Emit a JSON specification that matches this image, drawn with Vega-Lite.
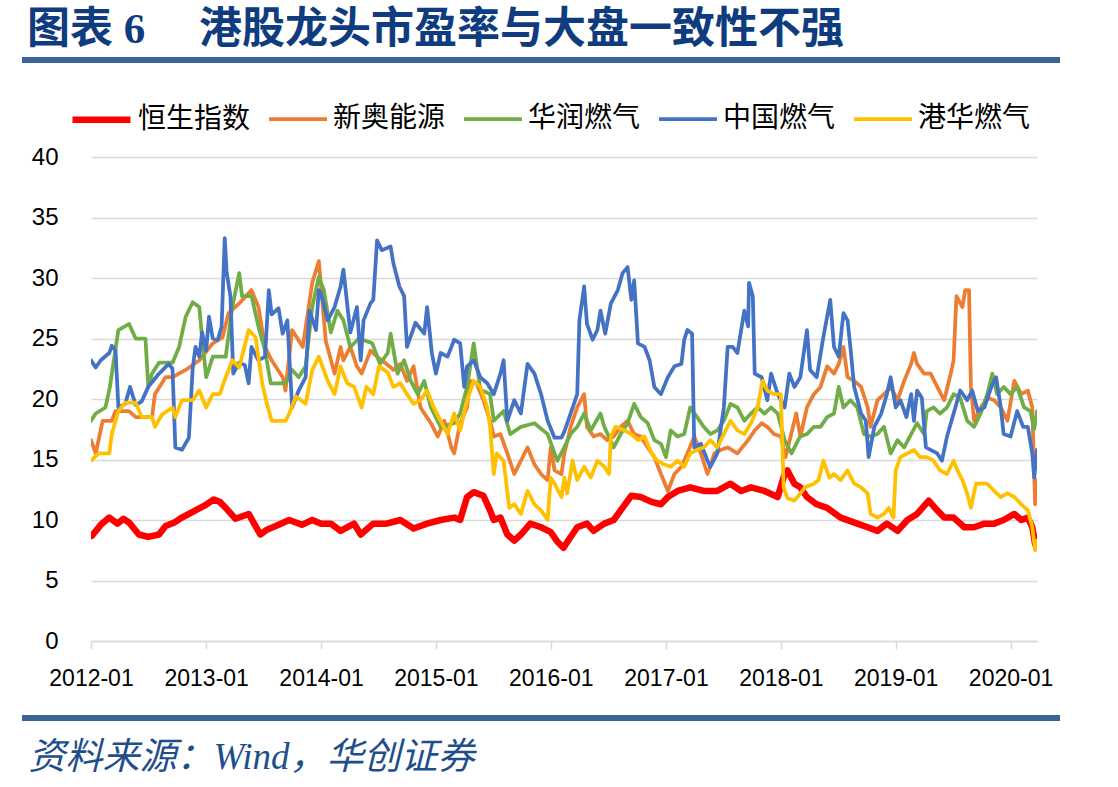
{
  "$schema": "https://vega.github.io/schema/vega-lite/v6.json",
  "autosize": "none",
  "width": 946,
  "height": 484,
  "padding": {"left": 91, "top": 157, "right": 81, "bottom": 146},
  "background": "white",
  "title": {
    "text": "图表 6 　港股龙头市盈率与大盘一致性不强",
    "anchor": "start",
    "frame": "group",
    "dx": -64,
    "offset": 5,
    "font": "Liberation Serif, Noto Sans CJK SC",
    "fontSize": 43,
    "fontWeight": "bold",
    "color": "#0F3C7E"
  },
  "config": {
    "view": {"stroke": null},
    "font": "Liberation Sans"
  },
  "layer": [
    {
      "data": {"values": [{}]},
      "mark": {"type": "rule", "color": "#3A6496", "strokeWidth": 6, "clip": false},
      "encoding": {"x": {"value": -69}, "x2": {"value": 969}, "y": {"value": -97}}
    },
    {
      "data": {"values": [{}]},
      "mark": {"type": "rule", "color": "#3A6496", "strokeWidth": 6, "clip": false},
      "encoding": {"x": {"value": -69}, "x2": {"value": 969}, "y": {"value": 561}}
    },
    {
      "data": {"values": [
        {"series":"恒生指数","date":"2012-01-04","value":8.7},
        {"series":"恒生指数","date":"2012-02-01","value":9.6},
        {"series":"恒生指数","date":"2012-02-28","value":10.2},
        {"series":"恒生指数","date":"2012-03-25","value":9.7},
        {"series":"恒生指数","date":"2012-04-13","value":10.1},
        {"series":"恒生指数","date":"2012-05-01","value":9.8},
        {"series":"恒生指数","date":"2012-06-01","value":8.8},
        {"series":"恒生指数","date":"2012-07-01","value":8.6},
        {"series":"恒生指数","date":"2012-08-04","value":8.8},
        {"series":"恒生指数","date":"2012-08-25","value":9.5},
        {"series":"恒生指数","date":"2012-09-22","value":9.8},
        {"series":"恒生指数","date":"2012-10-16","value":10.2},
        {"series":"恒生指数","date":"2012-11-28","value":10.8},
        {"series":"恒生指数","date":"2012-12-28","value":11.2},
        {"series":"恒生指数","date":"2013-01-25","value":11.7},
        {"series":"恒生指数","date":"2013-02-13","value":11.5},
        {"series":"恒生指数","date":"2013-03-04","value":11.0},
        {"series":"恒生指数","date":"2013-04-04","value":10.1},
        {"series":"恒生指数","date":"2013-05-16","value":10.5},
        {"series":"恒生指数","date":"2013-06-22","value":8.8},
        {"series":"恒生指数","date":"2013-07-13","value":9.2},
        {"series":"恒生指数","date":"2013-08-10","value":9.5},
        {"series":"恒生指数","date":"2013-09-22","value":10.0},
        {"series":"恒生指数","date":"2013-11-01","value":9.6},
        {"series":"恒生指数","date":"2013-12-04","value":10.0},
        {"series":"恒生指数","date":"2014-01-01","value":9.7},
        {"series":"恒生指数","date":"2014-02-01","value":9.7},
        {"series":"恒生指数","date":"2014-03-04","value":9.1},
        {"series":"恒生指数","date":"2014-04-16","value":9.7},
        {"series":"恒生指数","date":"2014-05-07","value":8.8},
        {"series":"恒生指数","date":"2014-06-16","value":9.7},
        {"series":"恒生指数","date":"2014-07-28","value":9.7},
        {"series":"恒生指数","date":"2014-09-10","value":10.0},
        {"series":"恒生指数","date":"2014-10-22","value":9.3},
        {"series":"恒生指数","date":"2014-12-04","value":9.7},
        {"series":"恒生指数","date":"2015-01-16","value":10.0},
        {"series":"恒生指数","date":"2015-02-28","value":10.2},
        {"series":"恒生指数","date":"2015-03-19","value":10.0},
        {"series":"恒生指数","date":"2015-04-10","value":11.9},
        {"series":"恒生指数","date":"2015-05-01","value":12.3},
        {"series":"恒生指数","date":"2015-06-01","value":12.0},
        {"series":"恒生指数","date":"2015-06-22","value":10.8},
        {"series":"恒生指数","date":"2015-07-04","value":10.0},
        {"series":"恒生指数","date":"2015-07-25","value":10.2},
        {"series":"恒生指数","date":"2015-08-16","value":8.8},
        {"series":"恒生指数","date":"2015-09-07","value":8.3},
        {"series":"恒生指数","date":"2015-09-28","value":8.8},
        {"series":"恒生指数","date":"2015-10-28","value":9.7},
        {"series":"恒生指数","date":"2015-12-01","value":9.4},
        {"series":"恒生指数","date":"2016-01-01","value":9.0},
        {"series":"恒生指数","date":"2016-01-22","value":8.2},
        {"series":"恒生指数","date":"2016-02-10","value":7.7},
        {"series":"恒生指数","date":"2016-03-04","value":8.6},
        {"series":"恒生指数","date":"2016-03-25","value":9.4},
        {"series":"恒生指数","date":"2016-04-25","value":9.7},
        {"series":"恒生指数","date":"2016-05-16","value":9.1},
        {"series":"恒生指数","date":"2016-06-19","value":9.7},
        {"series":"恒生指数","date":"2016-07-19","value":10.0},
        {"series":"恒生指数","date":"2016-08-10","value":10.8},
        {"series":"恒生指数","date":"2016-09-13","value":12.0},
        {"series":"恒生指数","date":"2016-10-13","value":11.9},
        {"series":"恒生指数","date":"2016-11-16","value":11.5},
        {"series":"恒生指数","date":"2016-12-16","value":11.3},
        {"series":"恒生指数","date":"2017-01-07","value":11.9},
        {"series":"恒生指数","date":"2017-02-07","value":12.4},
        {"series":"恒生指数","date":"2017-03-19","value":12.7},
        {"series":"恒生指数","date":"2017-05-01","value":12.4},
        {"series":"恒生指数","date":"2017-06-13","value":12.4},
        {"series":"恒生指数","date":"2017-07-25","value":13.0},
        {"series":"恒生指数","date":"2017-08-28","value":12.4},
        {"series":"恒生指数","date":"2017-09-28","value":12.7},
        {"series":"恒生指数","date":"2017-11-10","value":12.4},
        {"series":"恒生指数","date":"2017-12-22","value":11.9},
        {"series":"恒生指数","date":"2018-01-13","value":13.8},
        {"series":"恒生指数","date":"2018-01-22","value":14.1},
        {"series":"恒生指数","date":"2018-02-13","value":13.0},
        {"series":"恒生指数","date":"2018-03-04","value":12.7},
        {"series":"恒生指数","date":"2018-03-25","value":11.9},
        {"series":"恒生指数","date":"2018-04-25","value":11.3},
        {"series":"恒生指数","date":"2018-05-28","value":11.0},
        {"series":"恒生指数","date":"2018-07-10","value":10.2},
        {"series":"恒生指数","date":"2018-09-01","value":9.7},
        {"series":"恒生指数","date":"2018-10-04","value":9.4},
        {"series":"恒生指数","date":"2018-11-04","value":9.1},
        {"series":"恒生指数","date":"2018-12-04","value":9.7},
        {"series":"恒生指数","date":"2019-01-07","value":9.1},
        {"series":"恒生指数","date":"2019-02-07","value":10.0},
        {"series":"恒生指数","date":"2019-03-10","value":10.5},
        {"series":"恒生指数","date":"2019-04-16","value":11.6},
        {"series":"恒生指数","date":"2019-05-13","value":10.8},
        {"series":"恒生指数","date":"2019-06-04","value":10.2},
        {"series":"恒生指数","date":"2019-07-04","value":10.2},
        {"series":"恒生指数","date":"2019-08-07","value":9.4},
        {"series":"恒生指数","date":"2019-09-07","value":9.4},
        {"series":"恒生指数","date":"2019-10-10","value":9.7},
        {"series":"恒生指数","date":"2019-11-10","value":9.7},
        {"series":"恒生指数","date":"2019-12-10","value":10.0},
        {"series":"恒生指数","date":"2020-01-13","value":10.5},
        {"series":"恒生指数","date":"2020-02-04","value":10.0},
        {"series":"恒生指数","date":"2020-02-25","value":10.2},
        {"series":"恒生指数","date":"2020-03-10","value":9.4},
        {"series":"恒生指数","date":"2020-03-19","value":8.0},
        {"series":"恒生指数","date":"2020-03-25","value":8.6},

        {"series":"新奥能源","date":"2012-01-01","value":16.6},
        {"series":"新奥能源","date":"2012-01-16","value":15.5},
        {"series":"新奥能源","date":"2012-02-07","value":18.2},
        {"series":"新奥能源","date":"2012-03-07","value":18.2},
        {"series":"新奥能源","date":"2012-03-19","value":19.0},
        {"series":"新奥能源","date":"2012-05-01","value":19.0},
        {"series":"新奥能源","date":"2012-05-22","value":18.5},
        {"series":"新奥能源","date":"2012-07-13","value":18.5},
        {"series":"新奥能源","date":"2012-07-22","value":20.4},
        {"series":"新奥能源","date":"2012-08-25","value":21.8},
        {"series":"新奥能源","date":"2012-09-16","value":21.8},
        {"series":"新奥能源","date":"2012-10-28","value":22.4},
        {"series":"新奥能源","date":"2012-12-10","value":23.2},
        {"series":"新奥能源","date":"2013-01-22","value":24.6},
        {"series":"新奥能源","date":"2013-02-22","value":25.1},
        {"series":"新奥能源","date":"2013-03-13","value":27.1},
        {"series":"新奥能源","date":"2013-04-16","value":27.9},
        {"series":"新奥能源","date":"2013-05-25","value":29.0},
        {"series":"新奥能源","date":"2013-06-16","value":27.6},
        {"series":"新奥能源","date":"2013-07-07","value":24.3},
        {"series":"新奥能源","date":"2013-07-28","value":23.2},
        {"series":"新奥能源","date":"2013-09-01","value":21.8},
        {"series":"新奥能源","date":"2013-09-10","value":20.7},
        {"series":"新奥能源","date":"2013-10-01","value":25.7},
        {"series":"新奥能源","date":"2013-11-04","value":24.3},
        {"series":"新奥能源","date":"2013-12-04","value":29.6},
        {"series":"新奥能源","date":"2013-12-25","value":31.4},
        {"series":"新奥能源","date":"2014-01-16","value":24.8},
        {"series":"新奥能源","date":"2014-02-13","value":22.1},
        {"series":"新奥能源","date":"2014-03-04","value":24.3},
        {"series":"新奥能源","date":"2014-03-13","value":23.2},
        {"series":"新奥能源","date":"2014-04-04","value":24.3},
        {"series":"新奥能源","date":"2014-04-25","value":22.7},
        {"series":"新奥能源","date":"2014-05-10","value":22.1},
        {"series":"新奥能源","date":"2014-06-07","value":24.0},
        {"series":"新奥能源","date":"2014-06-28","value":23.5},
        {"series":"新奥能源","date":"2014-07-28","value":22.9},
        {"series":"新奥能源","date":"2014-08-19","value":22.4},
        {"series":"新奥能源","date":"2014-09-10","value":22.9},
        {"series":"新奥能源","date":"2014-10-01","value":21.5},
        {"series":"新奥能源","date":"2014-10-22","value":22.7},
        {"series":"新奥能源","date":"2014-11-13","value":19.3},
        {"series":"新奥能源","date":"2014-12-16","value":18.0},
        {"series":"新奥能源","date":"2015-01-07","value":16.9},
        {"series":"新奥能源","date":"2015-01-28","value":18.2},
        {"series":"新奥能源","date":"2015-02-19","value":16.0},
        {"series":"新奥能源","date":"2015-02-28","value":15.5},
        {"series":"新奥能源","date":"2015-03-19","value":18.0},
        {"series":"新奥能源","date":"2015-04-10","value":19.3},
        {"series":"新奥能源","date":"2015-04-19","value":21.5},
        {"series":"新奥能源","date":"2015-05-10","value":21.3},
        {"series":"新奥能源","date":"2015-06-01","value":19.9},
        {"series":"新奥能源","date":"2015-06-22","value":18.2},
        {"series":"新奥能源","date":"2015-07-04","value":16.9},
        {"series":"新奥能源","date":"2015-07-25","value":17.1},
        {"series":"新奥能源","date":"2015-08-16","value":15.5},
        {"series":"新奥能源","date":"2015-09-07","value":13.8},
        {"series":"新奥能源","date":"2015-09-28","value":14.9},
        {"series":"新奥能源","date":"2015-10-19","value":16.0},
        {"series":"新奥能源","date":"2015-11-10","value":14.6},
        {"series":"新奥能源","date":"2015-12-01","value":13.8},
        {"series":"新奥能源","date":"2015-12-22","value":13.3},
        {"series":"新奥能源","date":"2016-01-01","value":16.0},
        {"series":"新奥能源","date":"2016-01-13","value":14.1},
        {"series":"新奥能源","date":"2016-02-04","value":13.8},
        {"series":"新奥能源","date":"2016-02-13","value":15.5},
        {"series":"新奥能源","date":"2016-03-04","value":17.7},
        {"series":"新奥能源","date":"2016-03-25","value":19.3},
        {"series":"新奥能源","date":"2016-04-16","value":20.4},
        {"series":"新奥能源","date":"2016-04-25","value":17.7},
        {"series":"新奥能源","date":"2016-05-16","value":16.9},
        {"series":"新奥能源","date":"2016-06-07","value":17.1},
        {"series":"新奥能源","date":"2016-06-28","value":16.6},
        {"series":"新奥能源","date":"2016-07-19","value":16.9},
        {"series":"新奥能源","date":"2016-08-10","value":17.7},
        {"series":"新奥能源","date":"2016-09-01","value":18.2},
        {"series":"新奥能源","date":"2016-09-22","value":17.1},
        {"series":"新奥能源","date":"2016-10-13","value":16.9},
        {"series":"新奥能源","date":"2016-11-04","value":16.0},
        {"series":"新奥能源","date":"2016-11-25","value":15.2},
        {"series":"新奥能源","date":"2016-12-16","value":13.8},
        {"series":"新奥能源","date":"2017-01-07","value":12.4},
        {"series":"新奥能源","date":"2017-01-28","value":13.8},
        {"series":"新奥能源","date":"2017-02-19","value":14.4},
        {"series":"新奥能源","date":"2017-03-10","value":15.5},
        {"series":"新奥能源","date":"2017-04-01","value":16.9},
        {"series":"新奥能源","date":"2017-04-22","value":15.5},
        {"series":"新奥能源","date":"2017-05-13","value":13.8},
        {"series":"新奥能源","date":"2017-06-04","value":15.5},
        {"series":"新奥能源","date":"2017-06-25","value":15.8},
        {"series":"新奥能源","date":"2017-07-16","value":16.0},
        {"series":"新奥能源","date":"2017-08-16","value":15.5},
        {"series":"新奥能源","date":"2017-09-19","value":16.6},
        {"series":"新奥能源","date":"2017-10-10","value":17.4},
        {"series":"新奥能源","date":"2017-11-01","value":18.0},
        {"series":"新奥能源","date":"2017-11-19","value":17.7},
        {"series":"新奥能源","date":"2017-12-10","value":17.1},
        {"series":"新奥能源","date":"2018-01-01","value":16.9},
        {"series":"新奥能源","date":"2018-01-16","value":15.2},
        {"series":"新奥能源","date":"2018-02-01","value":16.9},
        {"series":"新奥能源","date":"2018-02-19","value":18.8},
        {"series":"新奥能源","date":"2018-03-04","value":16.9},
        {"series":"新奥能源","date":"2018-03-25","value":19.3},
        {"series":"新奥能源","date":"2018-04-16","value":20.4},
        {"series":"新奥能源","date":"2018-05-07","value":21.0},
        {"series":"新奥能源","date":"2018-05-28","value":22.7},
        {"series":"新奥能源","date":"2018-06-19","value":22.1},
        {"series":"新奥能源","date":"2018-07-04","value":22.9},
        {"series":"新奥能源","date":"2018-07-19","value":24.3},
        {"series":"新奥能源","date":"2018-08-01","value":21.8},
        {"series":"新奥能源","date":"2018-08-22","value":21.5},
        {"series":"新奥能源","date":"2018-09-13","value":21.0},
        {"series":"新奥能源","date":"2018-10-04","value":19.3},
        {"series":"新奥能源","date":"2018-10-13","value":17.7},
        {"series":"新奥能源","date":"2018-11-04","value":19.9},
        {"series":"新奥能源","date":"2018-11-25","value":20.4},
        {"series":"新奥能源","date":"2018-12-16","value":21.0},
        {"series":"新奥能源","date":"2019-01-07","value":19.9},
        {"series":"新奥能源","date":"2019-01-28","value":21.5},
        {"series":"新奥能源","date":"2019-02-19","value":22.9},
        {"series":"新奥能源","date":"2019-02-28","value":23.8},
        {"series":"新奥能源","date":"2019-03-10","value":22.9},
        {"series":"新奥能源","date":"2019-04-01","value":22.1},
        {"series":"新奥能源","date":"2019-04-22","value":22.1},
        {"series":"新奥能源","date":"2019-05-13","value":21.0},
        {"series":"新奥能源","date":"2019-06-04","value":19.9},
        {"series":"新奥能源","date":"2019-06-25","value":22.1},
        {"series":"新奥能源","date":"2019-07-04","value":23.2},
        {"series":"新奥能源","date":"2019-07-13","value":28.5},
        {"series":"新奥能源","date":"2019-08-01","value":27.6},
        {"series":"新奥能源","date":"2019-08-10","value":29.0},
        {"series":"新奥能源","date":"2019-08-22","value":29.0},
        {"series":"新奥能源","date":"2019-08-28","value":21.0},
        {"series":"新奥能源","date":"2019-09-07","value":18.2},
        {"series":"新奥能源","date":"2019-09-28","value":19.3},
        {"series":"新奥能源","date":"2019-10-19","value":20.1},
        {"series":"新奥能源","date":"2019-11-10","value":19.9},
        {"series":"新奥能源","date":"2019-12-01","value":19.3},
        {"series":"新奥能源","date":"2019-12-22","value":18.2},
        {"series":"新奥能源","date":"2020-01-13","value":21.5},
        {"series":"新奥能源","date":"2020-02-04","value":20.4},
        {"series":"新奥能源","date":"2020-02-25","value":20.7},
        {"series":"新奥能源","date":"2020-03-10","value":19.3},
        {"series":"新奥能源","date":"2020-03-19","value":11.3},
        {"series":"新奥能源","date":"2020-03-25","value":13.3},

        {"series":"华润燃气","date":"2012-01-01","value":18.2},
        {"series":"华润燃气","date":"2012-01-16","value":18.8},
        {"series":"华润燃气","date":"2012-02-16","value":19.3},
        {"series":"华润燃气","date":"2012-03-01","value":21.0},
        {"series":"华润燃气","date":"2012-03-28","value":25.7},
        {"series":"华润燃气","date":"2012-05-01","value":26.2},
        {"series":"华润燃气","date":"2012-05-22","value":25.0},
        {"series":"华润燃气","date":"2012-06-22","value":25.0},
        {"series":"华润燃气","date":"2012-07-01","value":21.0},
        {"series":"华润燃气","date":"2012-07-13","value":22.1},
        {"series":"华润燃气","date":"2012-08-04","value":23.0},
        {"series":"华润燃气","date":"2012-09-16","value":23.0},
        {"series":"华润燃气","date":"2012-10-07","value":24.3},
        {"series":"华润燃气","date":"2012-10-28","value":26.8},
        {"series":"华润燃气","date":"2012-11-19","value":28.0},
        {"series":"华润燃气","date":"2012-12-10","value":27.6},
        {"series":"华润燃气","date":"2012-12-19","value":25.1},
        {"series":"华润燃气","date":"2013-01-01","value":21.8},
        {"series":"华润燃气","date":"2013-01-22","value":23.5},
        {"series":"华润燃气","date":"2013-03-04","value":23.5},
        {"series":"华润燃气","date":"2013-03-25","value":27.6},
        {"series":"华润燃气","date":"2013-04-16","value":30.4},
        {"series":"华润燃气","date":"2013-04-25","value":28.5},
        {"series":"华润燃气","date":"2013-05-25","value":28.5},
        {"series":"华润燃气","date":"2013-06-16","value":26.0},
        {"series":"华润燃气","date":"2013-07-07","value":24.0},
        {"series":"华润燃气","date":"2013-07-25","value":21.3},
        {"series":"华润燃气","date":"2013-09-10","value":21.3},
        {"series":"华润燃气","date":"2013-10-01","value":22.4},
        {"series":"华润燃气","date":"2013-10-22","value":21.8},
        {"series":"华润燃气","date":"2013-11-13","value":22.7},
        {"series":"华润燃气","date":"2013-12-04","value":27.6},
        {"series":"华润燃气","date":"2013-12-25","value":30.1},
        {"series":"华润燃气","date":"2014-01-10","value":29.0},
        {"series":"华润燃气","date":"2014-02-01","value":25.5},
        {"series":"华润燃气","date":"2014-02-22","value":27.3},
        {"series":"华润燃气","date":"2014-03-13","value":26.5},
        {"series":"华润燃气","date":"2014-04-04","value":24.3},
        {"series":"华润燃气","date":"2014-05-01","value":25.0},
        {"series":"华润燃气","date":"2014-06-13","value":24.6},
        {"series":"华润燃气","date":"2014-07-07","value":22.9},
        {"series":"华润燃气","date":"2014-08-01","value":23.8},
        {"series":"华润燃气","date":"2014-08-10","value":25.4},
        {"series":"华润燃气","date":"2014-09-01","value":22.1},
        {"series":"华润燃气","date":"2014-09-22","value":23.2},
        {"series":"华润燃气","date":"2014-10-13","value":21.5},
        {"series":"华润燃气","date":"2014-11-04","value":20.4},
        {"series":"华润燃气","date":"2014-11-25","value":21.5},
        {"series":"华润燃气","date":"2014-12-16","value":19.3},
        {"series":"华润燃气","date":"2015-01-16","value":17.7},
        {"series":"华润燃气","date":"2015-02-28","value":18.0},
        {"series":"华润燃气","date":"2015-03-19","value":18.8},
        {"series":"华润燃气","date":"2015-04-10","value":21.0},
        {"series":"华润燃气","date":"2015-05-01","value":24.6},
        {"series":"华润燃气","date":"2015-05-22","value":20.8},
        {"series":"华润燃气","date":"2015-06-22","value":20.4},
        {"series":"华润燃气","date":"2015-07-04","value":18.2},
        {"series":"华润燃气","date":"2015-08-04","value":19.0},
        {"series":"华润燃气","date":"2015-08-25","value":17.1},
        {"series":"华润燃气","date":"2015-09-28","value":17.7},
        {"series":"华润燃气","date":"2015-11-10","value":18.0},
        {"series":"华润燃气","date":"2015-12-22","value":17.1},
        {"series":"华润燃气","date":"2016-01-13","value":15.5},
        {"series":"华润燃气","date":"2016-01-22","value":14.9},
        {"series":"华润燃气","date":"2016-02-13","value":16.0},
        {"series":"华润燃气","date":"2016-03-04","value":17.1},
        {"series":"华润燃气","date":"2016-03-25","value":17.7},
        {"series":"华润燃气","date":"2016-04-16","value":18.8},
        {"series":"华润燃气","date":"2016-05-07","value":17.4},
        {"series":"华润燃气","date":"2016-06-07","value":18.8},
        {"series":"华润燃气","date":"2016-06-19","value":17.7},
        {"series":"华润燃气","date":"2016-07-19","value":16.0},
        {"series":"华润燃气","date":"2016-08-10","value":17.1},
        {"series":"华润燃气","date":"2016-09-01","value":18.0},
        {"series":"华润燃气","date":"2016-09-22","value":19.6},
        {"series":"华润燃气","date":"2016-10-13","value":18.5},
        {"series":"华润燃气","date":"2016-11-04","value":18.0},
        {"series":"华润燃气","date":"2016-11-25","value":16.6},
        {"series":"华润燃气","date":"2016-12-16","value":16.3},
        {"series":"华润燃气","date":"2017-01-01","value":15.2},
        {"series":"华润燃气","date":"2017-01-16","value":17.4},
        {"series":"华润燃气","date":"2017-02-07","value":16.9},
        {"series":"华润燃气","date":"2017-02-28","value":17.1},
        {"series":"华润燃气","date":"2017-03-19","value":19.3},
        {"series":"华润燃气","date":"2017-04-10","value":18.5},
        {"series":"华润燃气","date":"2017-05-01","value":17.7},
        {"series":"华润燃气","date":"2017-05-22","value":17.1},
        {"series":"华润燃气","date":"2017-06-13","value":17.4},
        {"series":"华润燃气","date":"2017-07-04","value":18.2},
        {"series":"华润燃气","date":"2017-07-25","value":19.6},
        {"series":"华润燃气","date":"2017-08-16","value":19.3},
        {"series":"华润燃气","date":"2017-09-07","value":18.2},
        {"series":"华润燃气","date":"2017-09-28","value":18.8},
        {"series":"华润燃气","date":"2017-10-19","value":19.3},
        {"series":"华润燃气","date":"2017-11-10","value":18.8},
        {"series":"华润燃气","date":"2017-12-01","value":19.3},
        {"series":"华润燃气","date":"2017-12-22","value":18.8},
        {"series":"华润燃气","date":"2018-01-13","value":16.6},
        {"series":"华润燃气","date":"2018-02-04","value":15.5},
        {"series":"华润燃气","date":"2018-02-25","value":16.6},
        {"series":"华润燃气","date":"2018-03-04","value":16.9},
        {"series":"华润燃气","date":"2018-03-25","value":17.1},
        {"series":"华润燃气","date":"2018-04-16","value":17.7},
        {"series":"华润燃气","date":"2018-05-07","value":17.7},
        {"series":"华润燃气","date":"2018-05-28","value":18.5},
        {"series":"华润燃气","date":"2018-06-19","value":18.8},
        {"series":"华润燃气","date":"2018-07-04","value":21.0},
        {"series":"华润燃气","date":"2018-07-19","value":19.3},
        {"series":"华润燃气","date":"2018-08-10","value":19.9},
        {"series":"华润燃气","date":"2018-09-01","value":19.3},
        {"series":"华润燃气","date":"2018-09-22","value":17.1},
        {"series":"华润燃气","date":"2018-10-13","value":16.9},
        {"series":"华润燃气","date":"2018-11-04","value":17.1},
        {"series":"华润燃气","date":"2018-11-25","value":17.7},
        {"series":"华润燃气","date":"2018-12-16","value":15.5},
        {"series":"华润燃气","date":"2019-01-07","value":16.6},
        {"series":"华润燃气","date":"2019-01-28","value":16.0},
        {"series":"华润燃气","date":"2019-02-19","value":17.1},
        {"series":"华润燃气","date":"2019-03-10","value":18.0},
        {"series":"华润燃气","date":"2019-04-01","value":17.1},
        {"series":"华润燃气","date":"2019-04-10","value":19.0},
        {"series":"华润燃气","date":"2019-05-01","value":19.3},
        {"series":"华润燃气","date":"2019-05-22","value":18.8},
        {"series":"华润燃气","date":"2019-06-13","value":19.3},
        {"series":"华润燃气","date":"2019-07-04","value":20.4},
        {"series":"华润燃气","date":"2019-07-25","value":20.1},
        {"series":"华润燃气","date":"2019-08-16","value":18.2},
        {"series":"华润燃气","date":"2019-09-07","value":17.7},
        {"series":"华润燃气","date":"2019-09-28","value":18.8},
        {"series":"华润燃气","date":"2019-10-19","value":20.4},
        {"series":"华润燃气","date":"2019-11-04","value":22.1},
        {"series":"华润燃气","date":"2019-11-19","value":20.4},
        {"series":"华润燃气","date":"2019-12-10","value":21.0},
        {"series":"华润燃气","date":"2020-01-01","value":20.4},
        {"series":"华润燃气","date":"2020-01-22","value":21.0},
        {"series":"华润燃气","date":"2020-02-13","value":19.3},
        {"series":"华润燃气","date":"2020-03-04","value":19.0},
        {"series":"华润燃气","date":"2020-03-16","value":17.5},
        {"series":"华润燃气","date":"2020-03-25","value":19.0},

        {"series":"中国燃气","date":"2012-01-01","value":23.2},
        {"series":"中国燃气","date":"2012-01-16","value":22.6},
        {"series":"中国燃气","date":"2012-02-01","value":23.2},
        {"series":"中国燃气","date":"2012-02-28","value":23.8},
        {"series":"中国燃气","date":"2012-03-07","value":24.4},
        {"series":"中国燃气","date":"2012-03-19","value":24.0},
        {"series":"中国燃气","date":"2012-03-28","value":19.3},
        {"series":"中国燃气","date":"2012-04-19","value":19.6},
        {"series":"中国燃气","date":"2012-05-04","value":21.0},
        {"series":"中国燃气","date":"2012-05-22","value":19.5},
        {"series":"中国燃气","date":"2012-06-10","value":19.8},
        {"series":"中国燃气","date":"2012-07-01","value":21.0},
        {"series":"中国燃气","date":"2012-08-01","value":22.0},
        {"series":"中国燃气","date":"2012-09-04","value":22.9},
        {"series":"中国燃气","date":"2012-09-16","value":22.5},
        {"series":"中国燃气","date":"2012-09-25","value":16.0},
        {"series":"中国燃气","date":"2012-10-16","value":15.8},
        {"series":"中国燃气","date":"2012-11-07","value":16.8},
        {"series":"中国燃气","date":"2012-11-19","value":22.5},
        {"series":"中国燃气","date":"2012-11-28","value":24.3},
        {"series":"中国燃气","date":"2012-12-10","value":23.5},
        {"series":"中国燃气","date":"2012-12-19","value":25.5},
        {"series":"中国燃气","date":"2013-01-01","value":24.0},
        {"series":"中国燃气","date":"2013-01-10","value":26.8},
        {"series":"中国燃气","date":"2013-01-22","value":25.0},
        {"series":"中国燃气","date":"2013-02-07","value":24.9},
        {"series":"中国燃气","date":"2013-02-19","value":26.0},
        {"series":"中国燃气","date":"2013-03-01","value":33.3},
        {"series":"中国燃气","date":"2013-03-07","value":30.5},
        {"series":"中国燃气","date":"2013-03-19","value":28.5},
        {"series":"中国燃气","date":"2013-03-28","value":22.1},
        {"series":"中国燃气","date":"2013-04-16","value":23.0},
        {"series":"中国燃气","date":"2013-05-04","value":22.8},
        {"series":"中国燃气","date":"2013-05-16","value":21.3},
        {"series":"中国燃气","date":"2013-05-25","value":24.3},
        {"series":"中国燃气","date":"2013-06-16","value":23.2},
        {"series":"中国燃气","date":"2013-07-07","value":23.5},
        {"series":"中国燃气","date":"2013-07-19","value":29.0},
        {"series":"中国燃气","date":"2013-07-28","value":27.0},
        {"series":"中国燃气","date":"2013-08-19","value":27.5},
        {"series":"中国燃气","date":"2013-09-01","value":25.4},
        {"series":"中国燃气","date":"2013-09-16","value":26.5},
        {"series":"中国燃气","date":"2013-10-01","value":19.3},
        {"series":"中国燃气","date":"2013-10-22","value":20.7},
        {"series":"中国燃气","date":"2013-11-13","value":21.8},
        {"series":"中国燃气","date":"2013-11-25","value":27.3},
        {"series":"中国燃气","date":"2013-12-16","value":25.7},
        {"series":"中国燃气","date":"2013-12-25","value":29.0},
        {"series":"中国燃气","date":"2014-01-01","value":28.7},
        {"series":"中国燃气","date":"2014-01-22","value":26.5},
        {"series":"中国燃气","date":"2014-02-13","value":27.6},
        {"series":"中国燃气","date":"2014-03-04","value":29.3},
        {"series":"中国燃气","date":"2014-03-13","value":30.7},
        {"series":"中国燃气","date":"2014-04-04","value":25.5},
        {"series":"中国燃气","date":"2014-04-25","value":27.6},
        {"series":"中国燃气","date":"2014-05-07","value":23.2},
        {"series":"中国燃气","date":"2014-05-16","value":26.5},
        {"series":"中国燃气","date":"2014-06-07","value":27.9},
        {"series":"中国燃气","date":"2014-06-16","value":28.2},
        {"series":"中国燃气","date":"2014-06-28","value":33.1},
        {"series":"中国燃气","date":"2014-07-13","value":32.3},
        {"series":"中国燃气","date":"2014-08-10","value":32.6},
        {"series":"中国燃气","date":"2014-08-19","value":31.2},
        {"series":"中国燃气","date":"2014-09-07","value":29.3},
        {"series":"中国燃气","date":"2014-09-22","value":28.5},
        {"series":"中国燃气","date":"2014-10-01","value":24.3},
        {"series":"中国燃气","date":"2014-10-28","value":26.3},
        {"series":"中国燃气","date":"2014-11-25","value":25.4},
        {"series":"中国燃气","date":"2014-12-04","value":27.6},
        {"series":"中国燃气","date":"2014-12-19","value":23.8},
        {"series":"中国燃气","date":"2015-01-01","value":22.1},
        {"series":"中国燃气","date":"2015-01-16","value":23.8},
        {"series":"中国燃气","date":"2015-02-07","value":23.5},
        {"series":"中国燃气","date":"2015-02-28","value":24.9},
        {"series":"中国燃气","date":"2015-03-19","value":24.6},
        {"series":"中国燃气","date":"2015-04-01","value":21.0},
        {"series":"中国燃气","date":"2015-04-10","value":22.7},
        {"series":"中国燃气","date":"2015-05-01","value":23.2},
        {"series":"中国燃气","date":"2015-05-22","value":21.8},
        {"series":"中国燃气","date":"2015-06-13","value":21.3},
        {"series":"中国燃气","date":"2015-07-04","value":20.4},
        {"series":"中国燃气","date":"2015-07-25","value":22.1},
        {"series":"中国燃气","date":"2015-08-04","value":23.2},
        {"series":"中国燃气","date":"2015-08-16","value":18.2},
        {"series":"中国燃气","date":"2015-09-07","value":19.9},
        {"series":"中国燃气","date":"2015-09-28","value":18.8},
        {"series":"中国燃气","date":"2015-10-19","value":22.9},
        {"series":"中国燃气","date":"2015-11-10","value":22.1},
        {"series":"中国燃气","date":"2015-12-01","value":20.4},
        {"series":"中国燃气","date":"2015-12-22","value":18.2},
        {"series":"中国燃气","date":"2016-01-13","value":16.8},
        {"series":"中国燃气","date":"2016-02-04","value":16.8},
        {"series":"中国燃气","date":"2016-02-13","value":17.3},
        {"series":"中国燃气","date":"2016-03-04","value":18.8},
        {"series":"中国燃气","date":"2016-03-25","value":20.4},
        {"series":"中国燃气","date":"2016-04-01","value":26.5},
        {"series":"中国燃气","date":"2016-04-16","value":29.3},
        {"series":"中国燃气","date":"2016-04-25","value":26.2},
        {"series":"中国燃气","date":"2016-05-13","value":24.9},
        {"series":"中国燃气","date":"2016-05-28","value":25.7},
        {"series":"中国燃气","date":"2016-06-07","value":27.3},
        {"series":"中国燃气","date":"2016-06-22","value":25.4},
        {"series":"中国燃气","date":"2016-07-10","value":27.9},
        {"series":"中国燃气","date":"2016-08-01","value":29.0},
        {"series":"中国燃气","date":"2016-08-16","value":30.4},
        {"series":"中国燃气","date":"2016-09-01","value":30.9},
        {"series":"中国燃气","date":"2016-09-13","value":28.2},
        {"series":"中国燃气","date":"2016-09-22","value":29.8},
        {"series":"中国燃气","date":"2016-10-04","value":24.6},
        {"series":"中国燃气","date":"2016-10-25","value":24.3},
        {"series":"中国燃气","date":"2016-11-10","value":23.2},
        {"series":"中国燃气","date":"2016-11-25","value":21.0},
        {"series":"中国燃气","date":"2016-12-16","value":20.4},
        {"series":"中国燃气","date":"2017-01-07","value":21.8},
        {"series":"中国燃气","date":"2017-01-28","value":22.7},
        {"series":"中国燃气","date":"2017-02-19","value":22.9},
        {"series":"中国燃气","date":"2017-02-28","value":24.9},
        {"series":"中国燃气","date":"2017-03-10","value":25.7},
        {"series":"中国燃气","date":"2017-03-25","value":25.4},
        {"series":"中国燃气","date":"2017-04-01","value":16.0},
        {"series":"中国燃气","date":"2017-04-22","value":16.3},
        {"series":"中国燃气","date":"2017-05-13","value":14.9},
        {"series":"中国燃气","date":"2017-05-22","value":14.4},
        {"series":"中国燃气","date":"2017-06-13","value":15.5},
        {"series":"中国燃气","date":"2017-06-25","value":17.7},
        {"series":"中国燃气","date":"2017-07-04","value":19.3},
        {"series":"中国燃气","date":"2017-07-16","value":24.3},
        {"series":"中国燃气","date":"2017-08-01","value":24.3},
        {"series":"中国燃气","date":"2017-08-16","value":23.8},
        {"series":"中国燃气","date":"2017-09-07","value":27.3},
        {"series":"中国燃气","date":"2017-09-19","value":26.0},
        {"series":"中国燃气","date":"2017-09-22","value":29.6},
        {"series":"中国燃气","date":"2017-10-04","value":28.5},
        {"series":"中国燃气","date":"2017-10-10","value":22.1},
        {"series":"中国燃气","date":"2017-11-01","value":21.8},
        {"series":"中国燃气","date":"2017-11-19","value":19.9},
        {"series":"中国燃气","date":"2017-12-01","value":22.1},
        {"series":"中国燃气","date":"2017-12-22","value":20.4},
        {"series":"中国燃气","date":"2018-01-13","value":19.3},
        {"series":"中国燃气","date":"2018-01-28","value":22.1},
        {"series":"中国燃气","date":"2018-02-13","value":21.0},
        {"series":"中国燃气","date":"2018-03-04","value":21.8},
        {"series":"中国燃气","date":"2018-03-25","value":25.7},
        {"series":"中国燃气","date":"2018-04-04","value":22.4},
        {"series":"中国燃气","date":"2018-04-25","value":21.8},
        {"series":"中国燃气","date":"2018-05-16","value":25.1},
        {"series":"中国燃气","date":"2018-06-07","value":28.2},
        {"series":"中国燃气","date":"2018-06-19","value":24.3},
        {"series":"中国燃气","date":"2018-07-04","value":23.5},
        {"series":"中国燃气","date":"2018-07-19","value":27.1},
        {"series":"中国燃气","date":"2018-08-01","value":26.5},
        {"series":"中国燃气","date":"2018-08-10","value":24.3},
        {"series":"中国燃气","date":"2018-08-22","value":21.0},
        {"series":"中国燃气","date":"2018-09-13","value":18.8},
        {"series":"中国燃气","date":"2018-09-28","value":18.2},
        {"series":"中国燃气","date":"2018-10-07","value":15.2},
        {"series":"中国燃气","date":"2018-10-25","value":17.7},
        {"series":"中国燃气","date":"2018-11-16","value":18.8},
        {"series":"中国燃气","date":"2018-12-04","value":20.4},
        {"series":"中国燃气","date":"2018-12-16","value":21.8},
        {"series":"中国燃气","date":"2019-01-01","value":19.3},
        {"series":"中国燃气","date":"2019-01-16","value":19.9},
        {"series":"中国燃气","date":"2019-02-04","value":18.5},
        {"series":"中国燃气","date":"2019-02-19","value":20.4},
        {"series":"中国燃气","date":"2019-02-28","value":18.2},
        {"series":"中国燃气","date":"2019-03-10","value":20.7},
        {"series":"中国燃气","date":"2019-03-25","value":20.1},
        {"series":"中国燃气","date":"2019-04-07","value":16.0},
        {"series":"中国燃气","date":"2019-04-22","value":15.8},
        {"series":"中国燃气","date":"2019-05-13","value":15.5},
        {"series":"中国燃气","date":"2019-05-28","value":14.9},
        {"series":"中国燃气","date":"2019-06-13","value":16.9},
        {"series":"中国燃气","date":"2019-07-04","value":18.8},
        {"series":"中国燃气","date":"2019-07-25","value":20.7},
        {"series":"中国燃气","date":"2019-08-16","value":19.9},
        {"series":"中国燃气","date":"2019-09-01","value":20.7},
        {"series":"中国燃气","date":"2019-09-19","value":19.0},
        {"series":"中国燃气","date":"2019-10-10","value":19.3},
        {"series":"中国燃气","date":"2019-11-01","value":21.0},
        {"series":"中国燃气","date":"2019-11-16","value":21.8},
        {"series":"中国燃气","date":"2019-12-01","value":19.3},
        {"series":"中国燃气","date":"2019-12-10","value":17.1},
        {"series":"中国燃气","date":"2020-01-01","value":16.9},
        {"series":"中国燃气","date":"2020-01-22","value":19.0},
        {"series":"中国燃气","date":"2020-02-10","value":17.7},
        {"series":"中国燃气","date":"2020-02-25","value":17.7},
        {"series":"中国燃气","date":"2020-03-10","value":15.5},
        {"series":"中国燃气","date":"2020-03-16","value":13.5},
        {"series":"中国燃气","date":"2020-03-25","value":15.8},

        {"series":"港华燃气","date":"2012-01-01","value":14.9},
        {"series":"港华燃气","date":"2012-01-25","value":15.5},
        {"series":"港华燃气","date":"2012-02-28","value":15.5},
        {"series":"港华燃气","date":"2012-03-07","value":17.1},
        {"series":"港华燃气","date":"2012-03-28","value":19.0},
        {"series":"港华燃气","date":"2012-04-19","value":19.7},
        {"series":"港华燃气","date":"2012-05-22","value":19.7},
        {"series":"港华燃气","date":"2012-06-10","value":18.5},
        {"series":"港华燃气","date":"2012-07-13","value":18.5},
        {"series":"港华燃气","date":"2012-07-22","value":17.7},
        {"series":"港华燃气","date":"2012-08-13","value":18.7},
        {"series":"港华燃气","date":"2012-09-16","value":19.3},
        {"series":"港华燃气","date":"2012-09-25","value":18.5},
        {"series":"港华燃气","date":"2012-10-16","value":19.9},
        {"series":"港华燃气","date":"2012-11-19","value":19.9},
        {"series":"港华燃气","date":"2012-12-10","value":20.7},
        {"series":"港华燃气","date":"2013-01-01","value":19.3},
        {"series":"港华燃气","date":"2013-01-22","value":20.4},
        {"series":"港华燃气","date":"2013-02-13","value":20.4},
        {"series":"港华燃气","date":"2013-03-04","value":21.8},
        {"series":"港华燃气","date":"2013-03-25","value":23.2},
        {"series":"港华燃气","date":"2013-04-16","value":22.6},
        {"series":"港华燃气","date":"2013-05-16","value":25.7},
        {"series":"港华燃气","date":"2013-06-07","value":25.1},
        {"series":"港华燃气","date":"2013-06-28","value":21.3},
        {"series":"港华燃气","date":"2013-07-13","value":19.6},
        {"series":"港华燃气","date":"2013-07-28","value":18.2},
        {"series":"港华燃气","date":"2013-09-10","value":18.2},
        {"series":"港华燃气","date":"2013-09-22","value":18.8},
        {"series":"港华燃气","date":"2013-10-13","value":20.2},
        {"series":"港华燃气","date":"2013-11-13","value":19.6},
        {"series":"港华燃气","date":"2013-12-04","value":22.4},
        {"series":"港华燃气","date":"2013-12-25","value":23.5},
        {"series":"港华燃气","date":"2014-01-22","value":21.5},
        {"series":"港华燃气","date":"2014-02-13","value":20.4},
        {"series":"港华燃气","date":"2014-03-04","value":22.7},
        {"series":"港华燃气","date":"2014-03-25","value":21.3},
        {"series":"港华燃气","date":"2014-04-16","value":21.0},
        {"series":"港华燃气","date":"2014-05-10","value":19.3},
        {"series":"港华燃气","date":"2014-05-25","value":21.0},
        {"series":"港华燃气","date":"2014-06-16","value":20.4},
        {"series":"港华燃气","date":"2014-07-04","value":22.7},
        {"series":"港华燃气","date":"2014-08-01","value":22.2},
        {"series":"港华燃气","date":"2014-08-19","value":21.0},
        {"series":"港华燃气","date":"2014-09-10","value":21.3},
        {"series":"港华燃气","date":"2014-10-01","value":20.4},
        {"series":"港华燃气","date":"2014-10-22","value":19.6},
        {"series":"港华燃气","date":"2014-11-13","value":19.9},
        {"series":"港华燃气","date":"2014-12-04","value":20.7},
        {"series":"港华燃气","date":"2014-12-25","value":19.3},
        {"series":"港华燃气","date":"2015-01-16","value":18.2},
        {"series":"港华燃气","date":"2015-02-07","value":17.1},
        {"series":"港华燃气","date":"2015-02-28","value":18.8},
        {"series":"港华燃气","date":"2015-03-19","value":17.4},
        {"series":"港华燃气","date":"2015-04-10","value":19.9},
        {"series":"港华燃气","date":"2015-05-01","value":21.5},
        {"series":"港华燃气","date":"2015-05-22","value":21.0},
        {"series":"港华燃气","date":"2015-06-13","value":19.3},
        {"series":"港华燃气","date":"2015-06-22","value":17.7},
        {"series":"港华燃气","date":"2015-07-04","value":13.8},
        {"series":"港华燃气","date":"2015-07-13","value":15.5},
        {"series":"港华燃气","date":"2015-08-04","value":14.9},
        {"series":"港华燃气","date":"2015-08-22","value":11.0},
        {"series":"港华燃气","date":"2015-09-07","value":11.3},
        {"series":"港华燃气","date":"2015-09-28","value":10.5},
        {"series":"港华燃气","date":"2015-10-19","value":12.4},
        {"series":"港华燃气","date":"2015-11-10","value":11.3},
        {"series":"港华燃气","date":"2015-12-01","value":10.8},
        {"series":"港华燃气","date":"2015-12-22","value":10.0},
        {"series":"港华燃气","date":"2016-01-01","value":13.5},
        {"series":"港华燃气","date":"2016-01-13","value":13.0},
        {"series":"港华燃气","date":"2016-02-04","value":11.9},
        {"series":"港华燃气","date":"2016-02-13","value":13.5},
        {"series":"港华燃气","date":"2016-02-22","value":12.2},
        {"series":"港华燃气","date":"2016-03-10","value":14.9},
        {"series":"港华燃气","date":"2016-03-25","value":13.3},
        {"series":"港华燃气","date":"2016-04-16","value":14.4},
        {"series":"港华燃气","date":"2016-05-07","value":13.5},
        {"series":"港华燃气","date":"2016-05-28","value":14.9},
        {"series":"港华燃气","date":"2016-06-19","value":14.4},
        {"series":"港华燃气","date":"2016-07-04","value":13.8},
        {"series":"港华燃气","date":"2016-07-10","value":16.9},
        {"series":"港华燃气","date":"2016-07-25","value":17.7},
        {"series":"港华燃气","date":"2016-08-22","value":17.4},
        {"series":"港华燃气","date":"2016-09-13","value":17.1},
        {"series":"港华燃气","date":"2016-10-04","value":16.6},
        {"series":"港华燃气","date":"2016-10-25","value":16.9},
        {"series":"港华燃气","date":"2016-11-16","value":15.5},
        {"series":"港华燃气","date":"2016-12-04","value":14.9},
        {"series":"港华燃气","date":"2016-12-25","value":14.6},
        {"series":"港华燃气","date":"2017-01-16","value":14.4},
        {"series":"港华燃气","date":"2017-02-07","value":14.9},
        {"series":"港华燃气","date":"2017-02-28","value":14.4},
        {"series":"港华燃气","date":"2017-03-19","value":15.5},
        {"series":"港华燃气","date":"2017-04-10","value":15.8},
        {"series":"港华燃气","date":"2017-05-01","value":16.0},
        {"series":"港华燃气","date":"2017-05-22","value":16.6},
        {"series":"港华燃气","date":"2017-06-13","value":16.0},
        {"series":"港华燃气","date":"2017-07-04","value":17.1},
        {"series":"港华燃气","date":"2017-07-25","value":18.2},
        {"series":"港华燃气","date":"2017-08-16","value":17.4},
        {"series":"港华燃气","date":"2017-09-07","value":17.1},
        {"series":"港华燃气","date":"2017-09-28","value":18.0},
        {"series":"港华燃气","date":"2017-10-19","value":19.3},
        {"series":"港华燃气","date":"2017-11-04","value":21.5},
        {"series":"港华燃气","date":"2017-11-19","value":20.7},
        {"series":"港华燃气","date":"2017-12-10","value":20.4},
        {"series":"港华燃气","date":"2018-01-01","value":20.4},
        {"series":"港华燃气","date":"2018-01-10","value":12.7},
        {"series":"港华燃气","date":"2018-01-22","value":11.8},
        {"series":"港华燃气","date":"2018-02-13","value":11.6},
        {"series":"港华燃气","date":"2018-03-04","value":12.2},
        {"series":"港华燃气","date":"2018-03-19","value":12.7},
        {"series":"港华燃气","date":"2018-04-16","value":13.0},
        {"series":"港华燃气","date":"2018-05-01","value":13.3},
        {"series":"港华燃气","date":"2018-05-16","value":14.9},
        {"series":"港华燃气","date":"2018-06-04","value":13.5},
        {"series":"港华燃气","date":"2018-06-19","value":13.8},
        {"series":"港华燃气","date":"2018-07-10","value":13.3},
        {"series":"港华燃气","date":"2018-08-01","value":14.1},
        {"series":"港华燃气","date":"2018-08-22","value":13.0},
        {"series":"港华燃气","date":"2018-09-13","value":12.7},
        {"series":"港华燃气","date":"2018-10-04","value":12.2},
        {"series":"港华燃气","date":"2018-10-13","value":10.5},
        {"series":"港华燃气","date":"2018-11-04","value":10.2},
        {"series":"港华燃气","date":"2018-11-25","value":10.5},
        {"series":"港华燃气","date":"2018-12-10","value":11.0},
        {"series":"港华燃气","date":"2018-12-25","value":10.2},
        {"series":"港华燃气","date":"2019-01-01","value":14.1},
        {"series":"港华燃气","date":"2019-01-16","value":15.2},
        {"series":"港华燃气","date":"2019-02-07","value":15.5},
        {"series":"港华燃气","date":"2019-02-28","value":15.8},
        {"series":"港华燃气","date":"2019-03-19","value":15.2},
        {"series":"港华燃气","date":"2019-04-10","value":15.2},
        {"series":"港华燃气","date":"2019-05-01","value":14.9},
        {"series":"港华燃气","date":"2019-05-22","value":14.1},
        {"series":"港华燃气","date":"2019-06-13","value":13.8},
        {"series":"港华燃气","date":"2019-07-04","value":14.9},
        {"series":"港华燃气","date":"2019-07-16","value":14.1},
        {"series":"港华燃气","date":"2019-08-01","value":13.3},
        {"series":"港华燃气","date":"2019-08-16","value":12.2},
        {"series":"港华燃气","date":"2019-08-28","value":11.0},
        {"series":"港华燃气","date":"2019-09-13","value":13.0},
        {"series":"港华燃气","date":"2019-10-19","value":13.0},
        {"series":"港华燃气","date":"2019-11-10","value":12.4},
        {"series":"港华燃气","date":"2019-12-01","value":11.9},
        {"series":"港华燃气","date":"2019-12-22","value":12.2},
        {"series":"港华燃气","date":"2020-01-13","value":11.9},
        {"series":"港华燃气","date":"2020-02-04","value":11.3},
        {"series":"港华燃气","date":"2020-02-25","value":10.8},
        {"series":"港华燃气","date":"2020-03-10","value":9.4},
        {"series":"港华燃气","date":"2020-03-19","value":7.5},
        {"series":"港华燃气","date":"2020-03-25","value":8.3}
      ]},
      "mark": {"type": "line", "clip": true, "strokeJoin": "round", "strokeCap": "round"},
      "encoding": {
        "x": {
          "field": "date",
          "type": "temporal",
          "scale": {
            "type": "utc",
            "domain": [
              {"year": 2012, "month": 1, "date": 1, "utc": true},
              {"year": 2020, "month": 3, "date": 25, "utc": true}
            ]
          },
          "axis": {
            "values": [
              {"year": 2012, "month": 1, "date": 1, "utc": true},
              {"year": 2013, "month": 1, "date": 1, "utc": true},
              {"year": 2014, "month": 1, "date": 1, "utc": true},
              {"year": 2015, "month": 1, "date": 1, "utc": true},
              {"year": 2016, "month": 1, "date": 1, "utc": true},
              {"year": 2017, "month": 1, "date": 1, "utc": true},
              {"year": 2018, "month": 1, "date": 1, "utc": true},
              {"year": 2019, "month": 1, "date": 1, "utc": true},
              {"year": 2020, "month": 1, "date": 1, "utc": true}
            ],
            "format": "%Y-%m",
            "grid": false,
            "labelFont": "Liberation Sans",
            "labelFontSize": 23,
            "labelColor": "#000000",
            "labelPadding": 18,
            "labelFlush": false,
            "labelOverlap": false,
            "tickSize": 8,
            "tickColor": "#D9D9D9",
            "tickWidth": 1.5,
            "domainColor": "#D9D9D9",
            "domainWidth": 1.5,
            "title": "资料来源：Wind，华创证券",
            "titleX": -63,
            "titleY": 127,
            "titleAlign": "left",
            "titleAnchor": "start",
            "titleBaseline": "alphabetic",
            "titleFont": "Liberation Serif, Noto Sans CJK SC",
            "titleFontSize": 37,
            "titleFontStyle": "italic",
            "titleFontWeight": "normal",
            "titleColor": "#1F4E8C"
          }
        },
        "y": {
          "field": "value",
          "type": "quantitative",
          "scale": {"domain": [0, 40], "nice": false, "zero": true},
          "axis": {
            "values": [0, 5, 10, 15, 20, 25, 30, 35, 40],
            "domain": false,
            "ticks": false,
            "grid": true,
            "gridColor": "#D9D9D9",
            "gridWidth": 1.5,
            "labelFont": "Liberation Sans",
            "labelFontSize": 24,
            "labelColor": "#000000",
            "labelPadding": 33,
            "title": null
          }
        },
        "color": {
          "field": "series",
          "type": "nominal",
          "scale": {
            "domain": ["恒生指数", "新奥能源", "华润燃气", "中国燃气", "港华燃气"],
            "range": ["#FF0000", "#ED7D31", "#70AD47", "#4472C4", "#FFC000"]
          },
          "legend": {
            "orient": "none",
            "legendX": -22,
            "legendY": -70,
            "direction": "horizontal",
            "title": null,
            "symbolType": "stroke",
            "symbolSize": 3364,
            "labelFont": "Noto Sans CJK SC",
            "labelFontSize": 28,
            "labelColor": "#000000",
            "labelOffset": 4,
            "columnPadding": 10,
            "padding": 0
          }
        },
        "strokeWidth": {
          "field": "series",
          "type": "nominal",
          "scale": {
            "type": "ordinal",
            "domain": ["恒生指数", "新奥能源", "华润燃气", "中国燃气", "港华燃气"],
            "range": [6.5, 3.75, 3.75, 3.75, 3.75]
          },
          "legend": {
            "orient": "none",
            "legendX": -22,
            "legendY": -70,
            "direction": "horizontal",
            "title": null,
            "symbolType": "stroke",
            "symbolSize": 3364,
            "labelFont": "Noto Sans CJK SC",
            "labelFontSize": 28,
            "labelColor": "#000000",
            "labelOffset": 4,
            "columnPadding": 10,
            "padding": 0
          }
        }
      }
    }
  ]
}
